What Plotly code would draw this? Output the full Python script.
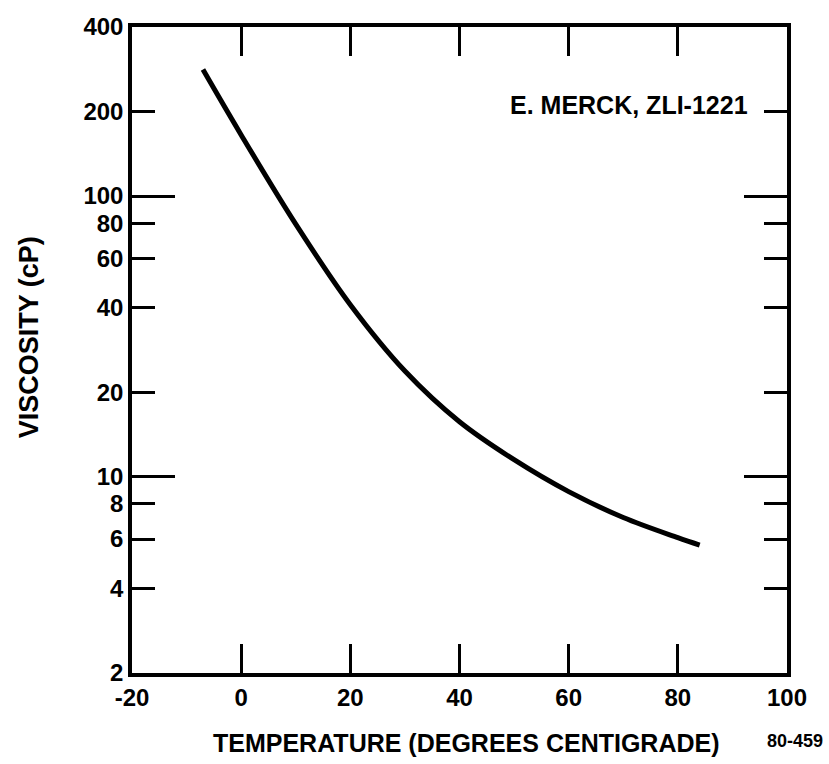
import plotly.graph_objects as go
import math

# Data
temperature_c = [-7, 0, 10, 20, 30, 40, 50, 60, 70, 80, 84]
viscosity_cp = [282, 165, 79.4, 41.0, 23.8, 15.7, 11.5, 8.85, 7.16, 6.07, 5.71]

x_ticks = [-20, 0, 20, 40, 60, 80, 100]
y_ticks = [2, 4, 6, 8, 10, 20, 40, 60, 80, 100, 200, 400]
y_major = [10, 100]

FONT = "Liberation Sans, Arial, sans-serif"
INK = "#000000"

fig = go.Figure()
fig.add_trace(go.Scatter(
    x=temperature_c, y=viscosity_cp, mode="lines",
    line=dict(color=INK, width=5, shape="spline", smoothing=1.0),
    showlegend=False, hoverinfo="skip",
))
# invisible trace for the overlaying axis (long ticks at 10 and 100)
fig.add_trace(go.Scatter(x=[None], y=[None], yaxis="y2", showlegend=False, hoverinfo="skip"))

yr = [math.log10(2), math.log10(400)]

fig.update_layout(
    width=829, height=764,
    margin=dict(l=132, r=42, t=27, b=91),
    paper_bgcolor="white", plot_bgcolor="white",
    font=dict(family=FONT, color=INK, size=24, weight="bold"),
    xaxis=dict(
        range=[-20, 100], tickvals=x_ticks, ticktext=[str(v) for v in x_ticks],
        ticks="inside", ticklen=29, tickwidth=3, tickcolor=INK,
        showline=True, linewidth=3.5, linecolor=INK, mirror="ticks",
        showgrid=False, zeroline=False,
        tickfont=dict(family=FONT, size=24, color=INK, weight="bold"),
    ),
    yaxis=dict(
        type="log", range=yr, tickvals=y_ticks, ticktext=[str(v) for v in y_ticks],
        ticks="inside", ticklen=23, tickwidth=3, tickcolor=INK,
        showline=True, linewidth=3.5, linecolor=INK, mirror="ticks",
        showgrid=False, zeroline=False,
        tickfont=dict(family=FONT, size=24, color=INK, weight="bold"),
    ),
    yaxis2=dict(
        type="log", range=yr, overlaying="y", side="left", anchor="x",
        tickvals=y_major, showticklabels=False,
        ticks="inside", ticklen=43, tickwidth=3, tickcolor=INK,
        showline=False, mirror="ticks", showgrid=False, zeroline=False,
    ),
    annotations=[
        dict(text="E. MERCK, ZLI-1221", xref="paper", yref="paper",
             x=0.943, y=0.879, xanchor="right", yanchor="middle", showarrow=False,
             font=dict(family=FONT, size=25, color=INK, weight="bold")),
        dict(text="TEMPERATURE (DEGREES CENTIGRADE)", xref="paper", yref="paper",
             x=0.511, y=-0.108, xanchor="center", yanchor="middle", showarrow=False,
             font=dict(family=FONT, size=25, color=INK, weight="bold")),
        dict(text="80-459", xref="paper", yref="paper",
             x=1.058, y=-0.105, xanchor="right", yanchor="middle", showarrow=False,
             font=dict(family=FONT, size=18, color=INK, weight="bold")),
        dict(text="VISCOSITY (cP)", xref="paper", yref="paper",
             x=-0.157, y=0.52, xanchor="center", yanchor="middle", showarrow=False,
             textangle=-90,
             font=dict(family=FONT, size=27, color=INK, weight="bold")),
    ],
)

fig.write_html("out.html")
